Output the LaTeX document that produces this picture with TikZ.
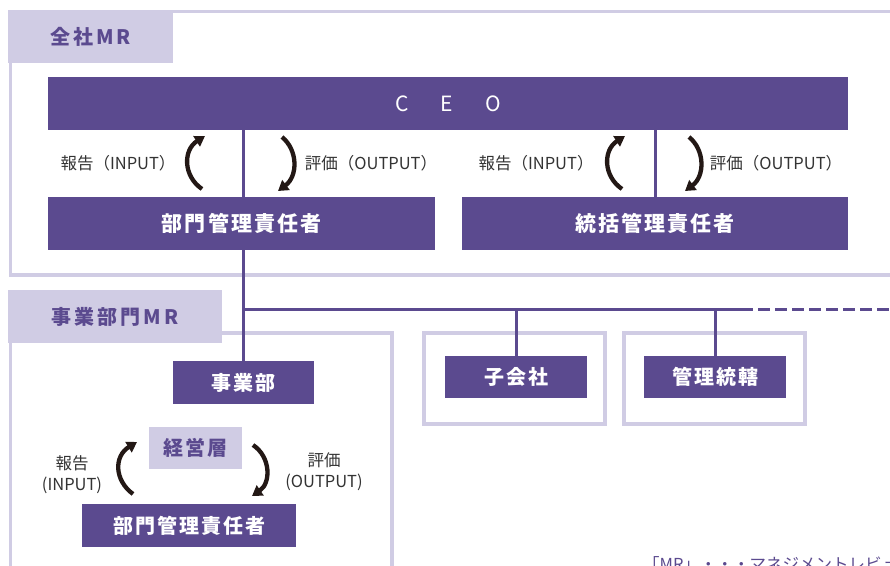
\documentclass[tikz,border=0pt]{standalone}
\usepackage{fontspec}
\setmainfont{Noto Sans CJK JP}
\newfontfamily\jpfont{Noto Sans CJK JP}
\newfontfamily\jpsp[LetterSpace=10]{Noto Sans CJK JP}
\newfontfamily\jpwide[LetterSpace=15]{Noto Sans CJK JP}
\usetikzlibrary{arrows.meta}
\definecolor{mrpurple}{HTML}{5B4A8F}
\definecolor{mrlav}{HTML}{D0CCE4}
\definecolor{mrdark}{HTML}{231815}
\definecolor{mrtext}{HTML}{333333}
\begin{document}
\begin{tikzpicture}[x=1pt,y=-1pt,
  pbox/.style={fill=mrpurple,text=white,inner sep=0pt,anchor=north west},
  bigtxt/.style={font={\jpsp\bfseries\fontsize{21}{21}\selectfont}},
  smalltxt/.style={font={\jpsp\bfseries\fontsize{20}{20}\selectfont}},
  tabbox/.style={fill=mrlav,text=mrpurple,inner sep=0pt,anchor=north west,
    font={\jpwide\bfseries\fontsize{20}{20}\selectfont}},
  frameline/.style={draw=mrlav,line width=3.5pt},
  link/.style={draw=mrpurple,line width=3pt},
  cyc/.style={draw=mrdark,line width=4.3pt,-{Triangle[length=10pt,width=12pt]}},
  lbl/.style={text=mrtext,inner sep=0pt,align=center,
    font={\jpfont\fontsize{16.5}{21}\selectfont}}]

\useasboundingbox (0,0) rectangle (890,565);
\clip (0,0) rectangle (890,565);
\fill[white] (0,0) rectangle (890,565);

% frames
\draw[frameline] (10.5,11.5) rectangle (900,275);
\node[tabbox,minimum width=165pt,minimum height=53pt] (tab1) at (8,10) {全社MR};
\draw[frameline] (10.5,333) rectangle (392,590);
\node[tabbox,minimum width=214pt,minimum height=53pt] (tab2) at (8,290) {事業部門MR};
\draw[frameline] (424,333) rectangle (605,424);
\draw[frameline] (624,333) rectangle (805,424);

% boxes
\node[pbox,minimum width=800pt,minimum height=53pt,
  font={\jpfont\fontsize{21}{21}\selectfont}] (ceo) at (48,77) {C\hspace{32pt}E\hspace{32pt}O};
\node[pbox,bigtxt,minimum width=387pt,minimum height=53pt] (b1) at (48,197) {部門管理責任者};
\node[pbox,bigtxt,minimum width=386pt,minimum height=53pt] (b2) at (462,197) {統括管理責任者};
\node[pbox,smalltxt,minimum width=141pt,minimum height=43pt] (jig) at (173,361) {事業部};
\node[pbox,smalltxt,minimum width=142pt,minimum height=42pt] (ko) at (445,356) {子会社};
\node[pbox,smalltxt,minimum width=142pt,minimum height=42pt] (kan) at (644,356) {管理統轄};
\node[pbox,smalltxt,fill=mrlav,text=mrpurple,minimum width=93pt,minimum height=42pt] (kei) at (149,427) {経営層};
\node[pbox,smalltxt,minimum width=214pt,minimum height=43pt] (b3) at (82,504) {部門管理責任者};

% links
\coordinate (xl) at (243,0);
\coordinate (j) at (243,309);
\coordinate (jend) at (753,309);
\coordinate (jfar) at (895,309);
\draw[link] (xl |- ceo.south) -- (xl |- b1.north);
\draw[link] (xl |- b1.south) -- (xl |- jig.north);
\draw[link] (b2.north |- ceo.south) -- (b2.north);
\draw[link] (j) -- (jend);
\draw[link,dash pattern=on 12pt off 5pt,dash phase=12pt] (jend) -- (jfar);
\draw[link] (ko.north |- j) -- (ko.north);
\draw[link] (kan.north |- j) -- (kan.north);

% cycle arrows
\coordinate (a1s) at (202,189); \coordinate (a1e) at (205,136);
\coordinate (a2s) at (282,137); \coordinate (a2e) at (278,191);
\coordinate (a3s) at (622,189); \coordinate (a3e) at (625,136);
\coordinate (a4s) at (689,137); \coordinate (a4e) at (685,191);
\coordinate (a5s) at (133,494); \coordinate (a5e) at (137,442);
\coordinate (a6s) at (253,445); \coordinate (a6e) at (252,496);
\draw[cyc] (a1s) .. controls (183,176) and (183,150) .. (a1e);
\draw[cyc] (a2s) .. controls (298,150) and (298,176) .. (a2e);
\draw[cyc] (a3s) .. controls (603,176) and (603,150) .. (a3e);
\draw[cyc] (a4s) .. controls (705,150) and (705,176) .. (a4e);
\draw[cyc] (a5s) .. controls (114,480) and (114,456) .. (a5e);
\draw[cyc] (a6s) .. controls (271,457) and (271,483) .. (a6e);

% labels
\node[lbl] (l1) at (118,163) {報告（INPUT）};
\node[lbl] (l2) at (371,163) {評価（OUTPUT）};
\node[lbl] (l3) at (536,163) {報告（INPUT）};
\node[lbl] (l4) at (776,163) {評価（OUTPUT）};
\node[lbl] (l5) at (72,475) {報告\\(INPUT)};
\node[lbl] (l6) at (324,472) {評価\\(OUTPUT)};

\node[anchor=west,inner sep=0pt,text=mrpurple,
  font={\jpfont\fontsize{16.5}{16.5}\selectfont}] (note) at (643,564) {「MR」・・・マネジメントレビュー};
\end{tikzpicture}
\end{document}
